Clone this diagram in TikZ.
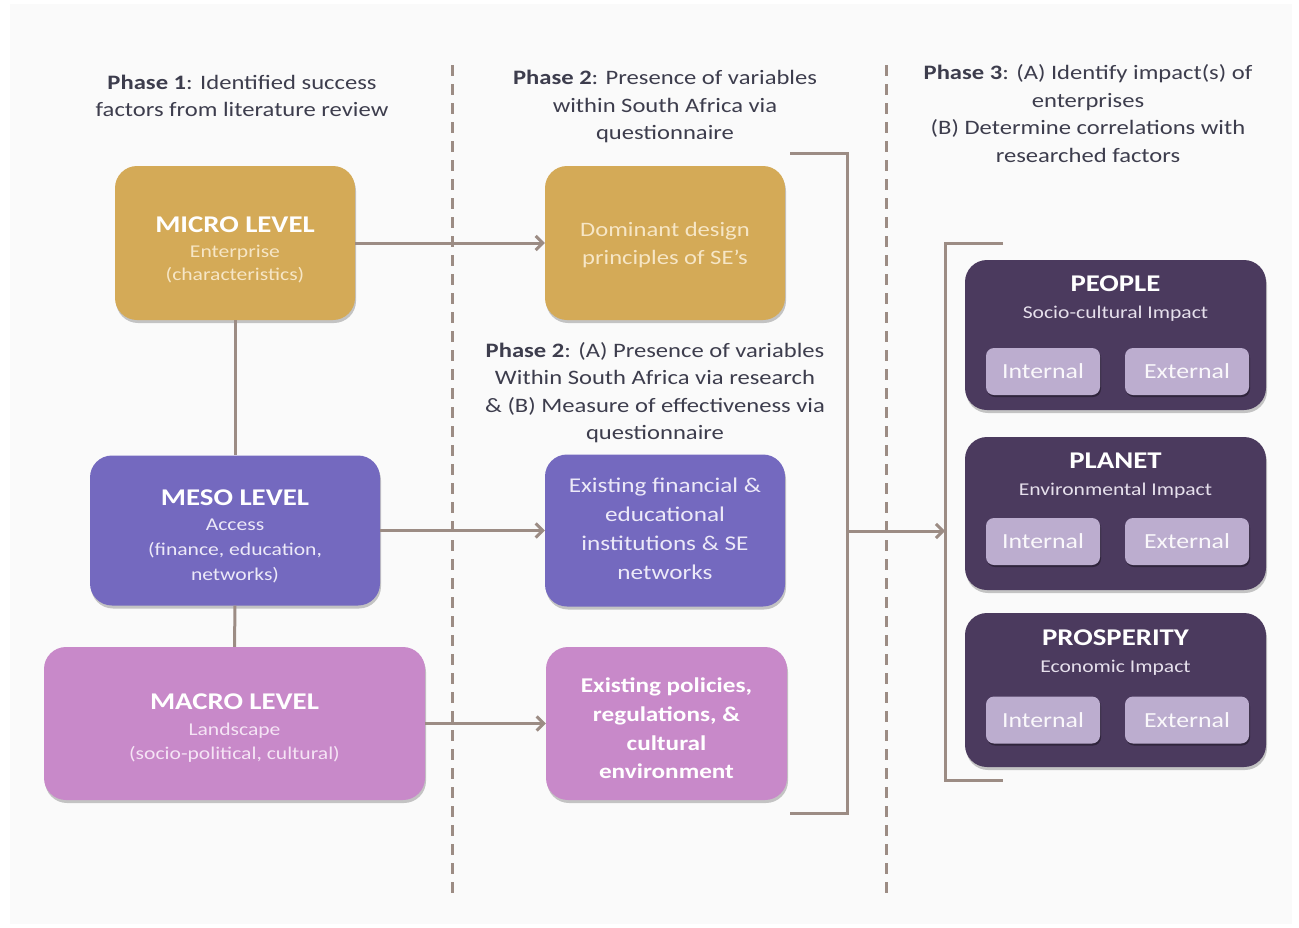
\documentclass[tikz,border=0pt]{standalone}
\usepackage{fontspec}
\setmainfont{Carlito}[FakeStretch=1.2]
\usetikzlibrary{arrows.meta,shadows}

\definecolor{pagebg}{HTML}{FAFAFA}
\definecolor{gold}{HTML}{D4AA57}
\definecolor{periwinkle}{HTML}{7469BF}
\definecolor{orchid}{HTML}{C889C9}
\definecolor{plum}{HTML}{4B3A5E}
\definecolor{lilac}{HTML}{BCADCF}
\definecolor{linkcol}{HTML}{9C8C84}
\definecolor{inkcol}{HTML}{3D3D4D}
\definecolor{goldtxt}{HTML}{F6E6C6}
\definecolor{peritxt}{HTML}{ECE9F8}
\definecolor{orchidtxt}{HTML}{F5E4F5}
\definecolor{plumtxt}{HTML}{E6E0EC}

\begin{document}
\begin{tikzpicture}[x=1pt,y=-1pt,
  panel/.style={rounded corners=22pt, inner sep=0pt, draw=none,
    drop shadow={shadow xshift=1pt, shadow yshift=-3pt, opacity=0.22, fill=black}},
  chip/.style={rounded corners=8pt, inner sep=0pt, draw=none, fill=lilac,
    minimum width=#1, minimum height=47pt, text=white!92!lilac,
    font=\fontsize{21.5}{24}\selectfont,
    drop shadow={shadow xshift=1pt, shadow yshift=-2pt, opacity=0.35, fill=black}},
  phasetxt/.style={align=center, inner sep=0pt, text=inkcol,
    font=\fontsize{20.5}{27.5}\selectfont},
  boxtxt/.style={align=center, inner sep=0pt},
  conn/.style={draw=linkcol, line width=3pt},
  arr/.style={conn, -{Straight Barb[length=7pt, width=14pt, line width=3pt]}},
  divider/.style={draw=linkcol, line width=3pt, dash pattern=on 11pt off 8pt}
]
\useasboundingbox (0,0) rectangle (1299,927);
\fill[pagebg] (10,4) rectangle (1292,924);

% phase dividers
\coordinate (d1top) at (452,65);
\coordinate (d1bot) at (452,900);
\coordinate (d2top) at (886,65);
\coordinate (d2bot) at (886,900);
\draw[divider] (d1top) -- (d1bot);
\draw[divider] (d2top) -- (d2bot);

% phase headings
\node[phasetxt] (ph1) at (242,96)
  {\textbf{Phase 1}: Identified success\\factors from literature review};
\node[phasetxt] (ph2a) at (665,106.5)
  {\textbf{Phase 2}: Presence of variables\\within South Africa via\\questionnaire};
\node[phasetxt] (ph2b) at (655,392.5)
  {\textbf{Phase 2}: (A) Presence of variables\\Within South Africa via research\\\& (B) Measure of effectiveness via\\questionnaire};
\node[phasetxt] (ph3) at (1088,113.5)
  {\textbf{Phase 3}: (A) Identify impact(s) of\\enterprises\\(B) Determine correlations with\\researched factors};

% level boxes (phase 1)
\node[panel, fill=gold, minimum width=240pt, minimum height=154pt] (micro) at (235,243) {};
\node[panel, fill=periwinkle, minimum width=290pt, minimum height=150pt] (meso) at (235,530.5) {};
\node[panel, fill=orchid, minimum width=381pt, minimum height=153pt] (macro) at (234.5,723.5) {};

\node[boxtxt, text=goldtxt, font=\fontsize{18}{23}\selectfont] (microtxt) at (235,249.5)
  {{\color{white}\bfseries\fontsize{24}{28}\selectfont MICRO LEVEL}\\[2pt]Enterprise\\(characteristics)};
\node[boxtxt, text=peritxt, font=\fontsize{18}{25}\selectfont] (mesotxt) at (235,536.5)
  {{\color{white}\bfseries\fontsize{24}{28}\selectfont MESO LEVEL}\\Access\\(finance, education,\\networks)};
\node[boxtxt, text=orchidtxt, font=\fontsize{18}{24}\selectfont] (macrotxt) at (234.5,728)
  {{\color{white}\bfseries\fontsize{24}{28}\selectfont MACRO LEVEL}\\[2pt]Landscape\\(socio-political, cultural)};

% phase 2 boxes
\node[panel, fill=gold, minimum width=240pt, minimum height=154pt] (dominant) at (665,243) {};
\node[panel, fill=periwinkle, minimum width=240pt, minimum height=152pt] (finance) at (665,530.5) {};
\node[panel, fill=orchid, minimum width=241pt, minimum height=153pt] (policies) at (666.5,723.5) {};

\node[boxtxt, text=goldtxt, font=\fontsize{20.5}{28}\selectfont] (dominanttxt) at (665,245.5)
  {Dominant design\\principles of SE’s};
\node[boxtxt, text=peritxt, font=\fontsize{21}{29}\selectfont] (financetxt) at (665,528.5)
  {Existing financial \&\\educational\\institutions \& SE\\networks};
\node[boxtxt, text=white, font=\bfseries\fontsize{21}{28.7}\selectfont] (policiestxt) at (666.5,728.5)
  {Existing policies,\\regulations, \&\\cultural\\environment};

% level links
\draw[conn] (micro.south) -- (meso.north);
\draw[conn] (meso.south) -- (macro.north);
\draw[arr] (micro.east) -- (dominant.west);
\draw[arr] (meso.east) -- (finance.west);
\draw[arr] (macro.east) -- (policies.west);

% gathering bracket and hand-over to phase 3
\coordinate (gTop) at (790,153);
\coordinate (gBot) at (790,813);
\coordinate (gMid) at (847,531);
\coordinate (sMid) at (945,531);
\coordinate (sTop) at (1003,243);
\coordinate (sBot) at (1003,780);
\draw[conn] (gTop) -- ++(57,0) |- (gBot);
\draw[arr] (gMid) -- (sMid);
\draw[conn] (sTop) -- ++(-58,0) |- (sBot);

% impact panels (phase 3)
\node[panel, fill=plum, minimum width=301pt, minimum height=150pt] (people) at (1115.5,335) {};
\node[panel, fill=plum, minimum width=301pt, minimum height=153pt] (planet) at (1115.5,513.5) {};
\node[panel, fill=plum, minimum width=301pt, minimum height=154pt] (prosperity) at (1115.5,690) {};

\node[boxtxt, text=plumtxt, font=\fontsize{18}{27}\selectfont] (peopletxt) at (1115.5,299)
  {{\color{white}\bfseries\fontsize{24}{27}\selectfont PEOPLE}\\Socio-cultural Impact};
\node[boxtxt, text=plumtxt, font=\fontsize{18}{27}\selectfont] (planettxt) at (1115.5,476)
  {{\color{white}\bfseries\fontsize{24}{27}\selectfont PLANET}\\Environmental Impact};
\node[boxtxt, text=plumtxt, font=\fontsize{18}{27}\selectfont] (prosperitytxt) at (1115.5,653)
  {{\color{white}\bfseries\fontsize{24}{27}\selectfont PROSPERITY}\\Economic Impact};

\node[chip=114pt] (peopleInt) at (1043,371.5) {Internal};
\node[chip=124pt] (peopleExt) at (1187,371.5) {External};
\node[chip=114pt] (planetInt) at (1043,541.5) {Internal};
\node[chip=124pt] (planetExt) at (1187,541.5) {External};
\node[chip=114pt] (prospInt) at (1043,720) {Internal};
\node[chip=124pt] (prospExt) at (1187,720) {External};
\end{tikzpicture}
\end{document}
